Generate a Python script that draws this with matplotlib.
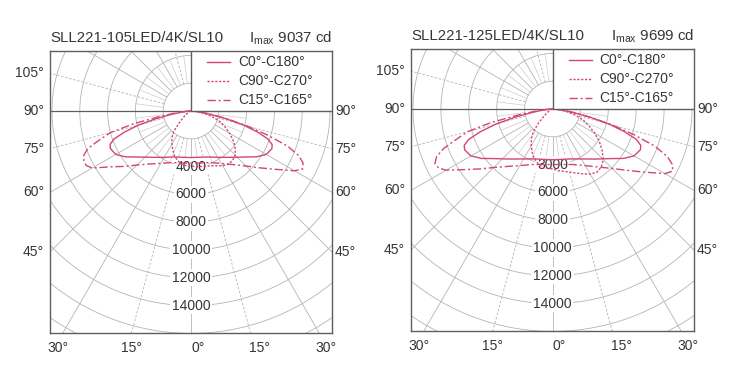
import numpy as np
import matplotlib
matplotlib.use('Agg')
import matplotlib.pyplot as plt
from matplotlib.patches import Rectangle

plt.rcParams['font.family'] = ['Liberation Sans', 'DejaVu Sans']
plt.rcParams['mathtext.fontset'] = 'custom'
plt.rcParams['mathtext.rm'] = 'Liberation Sans'

# ---- data (cd), gamma = angle from nadir in degrees ----
gamma_c0 = [0, 10, 20, 30, 40, 50, 55, 60, 65, 67.5, 70, 72.5, 75, 77.5, 80, 82.5, 85, 87.5, 90]
gamma_c15 = [0, 10, 20, 30, 37.5, 45, 50, 55, 60, 62.5, 65, 67.5, 70, 72.5, 75, 77.5, 80, 82.5, 85, 87.5, 90]
gamma_c90 = [0, 5, 10, 15, 20, 25, 30, 35, 40, 45, 50, 55, 60, 65, 70, 75, 80, 85, 90]

# SLL221-105LED/4K/SL10
a_c0_left = [3350, 3380, 3520, 3850, 4350, 5150, 5750, 6250, 6400, 6300, 5900, 5000, 3900, 2600, 1500, 800, 350, 120, 0]
a_c0_right = [3350, 3380, 3520, 3850, 4350, 5150, 5750, 6250, 6420, 6320, 5900, 5000, 3900, 2600, 1500, 800, 350, 120, 0]
a_c15_left = [3750, 3800, 3950, 4350, 4800, 5500, 6200, 7000, 8200, 8500, 8500, 8350, 7900, 6900, 6000, 4200, 2300, 1200, 500, 150, 0]
a_c15_right = [3750, 3800, 3950, 4350, 4850, 5600, 6350, 7300, 8600, 9037, 8900, 8400, 7400, 5800, 4200, 2800, 1700, 900, 400, 120, 0]
a_c90_left = [3950, 3950, 3900, 3700, 3450, 3100, 2750, 2400, 1950, 1200, 700, 400, 250, 170, 100, 60, 40, 20, 0]
a_c90_right = [4000, 4020, 4050, 4100, 4200, 4350, 4550, 4680, 4650, 4500, 4150, 3700, 3200, 2700, 2200, 1600, 950, 400, 0]

# SLL221-125LED/4K/SL10
b_c0_left = [3650, 3680, 3820, 4150, 4700, 5550, 6200, 6750, 6950, 6850, 6400, 5400, 4200, 2800, 1600, 850, 380, 130, 0]
b_c0_right = [3650, 3680, 3820, 4150, 4700, 5550, 6200, 6750, 6950, 6850, 6400, 5400, 4200, 2800, 1600, 850, 380, 130, 0]
b_c15_left = [4000, 4050, 4250, 4700, 5200, 5950, 6700, 7600, 8800, 9200, 9300, 9000, 8300, 7200, 6300, 4500, 2500, 1300, 550, 160, 0]
b_c15_right = [4000, 4050, 4250, 4700, 5250, 6050, 6850, 7900, 9300, 9699, 9500, 8900, 7800, 6100, 4400, 2900, 1800, 950, 420, 130, 0]
b_c90_left = [4300, 4300, 4250, 4050, 3800, 3450, 3050, 2650, 2150, 1400, 800, 450, 280, 180, 110, 70, 40, 20, 0]
b_c90_right = [4400, 4450, 4550, 4700, 4900, 5150, 5400, 5550, 5450, 5150, 4650, 4100, 3500, 2900, 2350, 1700, 1000, 420, 0]

legend_labels = ['C0°-C180°', 'C90°-C270°', 'C15°-C165°']
ring_labels_a = ['4000', '6000', '8000', '10000', '12000', '14000']
ring_labels_b = ['3000', '6000', '8000', '10000', '12000', '14000']
side_left_angles = [105, 90, 75, 60, 45]
side_right_angles = [90, 75, 60, 45]
bottom_angles = [-30, -15, 0, 15, 30]

CURVE = '#d4466f'
GRID = '#b4b4b4'
FINE = '#cdcdcd'
FRAME = '#5e5e5e'
TXT = '#363636'

S = 2000 / 27.8          # cd per pixel
XMAX = 141 * S
YTOP = 60 * S
YBOT = -222 * S


def curve_xy(gam, left, right):
    # left half goes from 90 deg down to nadir, right half back up
    g = np.radians(np.array(gam, dtype=float))
    l = np.array(left, dtype=float)
    r = np.array(right, dtype=float)
    x = np.concatenate([-(l * np.sin(g))[::-1], (r * np.sin(g))[1:]])
    y = np.concatenate([-(l * np.cos(g))[::-1], -(r * np.cos(g))[1:]])
    return x, y


def draw_panel(ax, title, imax, rings, c0, c90, c15):
    ax.set_xlim(-XMAX, XMAX)
    ax.set_ylim(YBOT, YTOP)
    ax.set_xticks([])
    ax.set_yticks([])
    for sp in ax.spines.values():
        sp.set_color(FRAME)
        sp.set_linewidth(1.0)

    # rings
    th = np.linspace(0, 2 * np.pi, 720)
    for r in range(2000, 20001, 2000):
        ax.plot(r * np.sin(th), r * np.cos(th), color=GRID, lw=0.6, zorder=1)

    # spokes every 15 deg, fine ones between the first two rings
    for a in np.arange(0, 360, 15):
        t = np.radians(a)
        ls = (0, (3, 2)) if a % 30 == 15 and a not in (45, 135, 225, 315) else '-'
        ax.plot([2000 * np.sin(t), 30000 * np.sin(t)], [-2000 * np.cos(t), -30000 * np.cos(t)],
                color=GRID, lw=0.6, ls=ls, zorder=1)
    for a in np.arange(0, 360, 7.5):
        if a % 15 == 0:
            continue
        t = np.radians(a)
        ax.plot([2000 * np.sin(t), 4000 * np.sin(t)], [-2000 * np.cos(t), -4000 * np.cos(t)],
                color=FINE, lw=0.5, zorder=1)
    # 90 deg line on the left
    ax.plot([-XMAX, 0], [0, 0], color=FRAME, lw=0.9, zorder=2)

    # ring values
    for i, lab in enumerate(rings):
        ax.text(0, -(4000 + 2000 * i), lab, ha='center', va='center', fontsize=10, color=TXT,
                zorder=2.5, bbox=dict(boxstyle='square,pad=0.12', fc='white', ec='none'))

    # curves
    x, y = curve_xy(*c0)
    ax.plot(x, y, color=CURVE, lw=1.0, zorder=3)
    x, y = curve_xy(*c90)
    ax.plot(x, y, color=CURVE, lw=1.0, ls=(0, (1.6, 1.2)), zorder=3)
    x, y = curve_xy(*c15)
    ax.plot(x, y, color=CURVE, lw=1.0, ls=(0, (6, 2, 1.5, 2)), zorder=3)

    # legend box in the upper right quadrant
    ax.add_patch(Rectangle((0, 0), XMAX, YTOP, fc='white', ec=FRAME, lw=1.0, zorder=4))
    styles = ['-', (0, (1.6, 1.2)), (0, (6, 2, 1.5, 2))]
    for i, (lab, ls) in enumerate(zip(legend_labels, styles)):
        yy = (49 - 19 * i) * S
        ax.plot([16 * S, 39 * S], [yy, yy], color=CURVE, lw=1.0, ls=ls, zorder=5)
        ax.text(47 * S, yy, lab, ha='left', va='center', fontsize=10, color=TXT, zorder=5)

    # angle labels
    for a in side_left_angles:
        t = np.radians(a)
        yy = -XMAX * np.cos(t) / np.sin(t)
        ax.text(-XMAX - 6 * S, yy, '%d°' % a, ha='right', va='center', fontsize=10,
                color=TXT, clip_on=False)
    for a in side_right_angles:
        t = np.radians(a)
        yy = -XMAX * np.cos(t) / np.sin(t)
        ax.text(XMAX + 3 * S, yy, '%d°' % a, ha='left', va='center', fontsize=10,
                color=TXT, clip_on=False)
    offs = [-5, 0, 7, 9, 7]
    for a, o in zip(bottom_angles, offs):
        xx = -YBOT * np.tan(np.radians(a)) + o * S
        ax.text(xx, YBOT - 15 * S, '%d°' % abs(a), ha='center', va='center', fontsize=10,
                color=TXT, clip_on=False)

    ax.text(0, 1.046, title, transform=ax.transAxes, ha='left', va='center',
            fontsize=10.8, color=TXT)
    ax.text(1, 1.046, imax, transform=ax.transAxes, ha='right', va='center',
            fontsize=10.8, color=TXT)


fig = plt.figure(figsize=(7.32, 3.89), dpi=100)
ax1 = fig.add_axes([50 / 732, 1 - 333 / 389, 282 / 732, 282 / 389])
ax2 = fig.add_axes([411 / 732, 1 - 331 / 389, 283 / 732, 282 / 389])

draw_panel(ax1, 'SLL221-105LED/4K/SL10', r'I$_{\mathregular{max}}$ 9037 cd', ring_labels_a,
           (gamma_c0, a_c0_left, a_c0_right), (gamma_c90, a_c90_left, a_c90_right),
           (gamma_c15, a_c15_left, a_c15_right))
draw_panel(ax2, 'SLL221-125LED/4K/SL10', r'I$_{\mathregular{max}}$ 9699 cd', ring_labels_b,
           (gamma_c0, b_c0_left, b_c0_right), (gamma_c90, b_c90_left, b_c90_right),
           (gamma_c15, b_c15_left, b_c15_right))

fig.savefig('out.png', dpi=100)
